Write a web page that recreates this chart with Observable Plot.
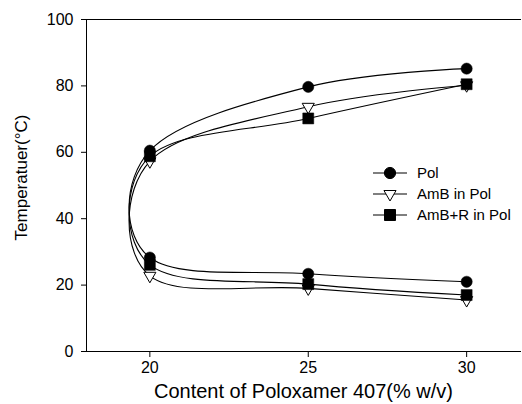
<!DOCTYPE html>
<html>
<head>
<meta charset="utf-8">
<script src="https://cdn.jsdelivr.net/npm/d3@7"></script>
<script src="https://cdn.jsdelivr.net/npm/@observablehq/plot@0.6"></script>
<style>
  html, body { margin: 0; padding: 0; background: #fff; }
  #wrap { position: relative; width: 522px; height: 404px; font-family: "Liberation Sans", Arial, sans-serif; }
  #legend { position: absolute; left: 0; top: 0; }
</style>
</head>
<body>
<div id="wrap"></div>
<script>
// ---- data ----
const contents = [20, 25, 30];                 // Poloxamer 407 content (% w/v)
const seriesNames = ["Pol", "AmB in Pol", "AmB+R in Pol"];
const polUpper = [60.5, 79.7, 85.2];
const polLower = [28.3, 23.4, 21.0];
const ambUpper = [57.3, 73.7, 80.2];
const ambLower = [22.8, 19.0, 15.5];
const amrUpper = [58.8, 70.2, 80.5];
const amrLower = [26.1, 20.3, 17.0];
const yTicks = [0, 20, 40, 60, 80, 100];
const xTicks = [20, 25, 30];

// build path-ordered rows: lower branch 30→20, then upper branch 20→30
function pathRows(name, upper, lower) {
  const rows = [];
  for (let i = contents.length - 1; i >= 0; i--) rows.push({series: name, x: contents[i], y: lower[i]});
  for (let i = 0; i < contents.length; i++) rows.push({series: name, x: contents[i], y: upper[i]});
  return rows;
}
const pol = pathRows(seriesNames[0], polUpper, polLower);
const amb = pathRows(seriesNames[1], ambUpper, ambLower);
const amr = pathRows(seriesNames[2], amrUpper, amrLower);

const lineOpts = {x: "x", y: "y", curve: "cardinal", tension: -0.05, stroke: "black", strokeWidth: 1.1};

const chart = Plot.plot({
  width: 522,
  height: 404,
  marginLeft: 86,
  marginRight: 2,
  marginTop: 19,
  marginBottom: 53,
  style: {fontFamily: "'Liberation Sans', Arial, sans-serif", background: "white", color: "black"},
  x: {domain: [18, 31.7]},
  y: {domain: [0, 100]},
  marks: [
    Plot.frame({anchor: "left", stroke: "black", strokeWidth: 1}),
    Plot.frame({anchor: "bottom", stroke: "black", strokeWidth: 1}),
    Plot.frame({anchor: "top", stroke: "black", strokeWidth: 1}),
    Plot.axisY({ticks: yTicks, tickSize: 5, tickPadding: 8, fontSize: 16, label: null}),
    Plot.axisX({ticks: xTicks, tickSize: 6, tickPadding: 4, fontSize: 16, label: null}),
    Plot.line(amb, lineOpts),
    Plot.line(amr, lineOpts),
    Plot.line(pol, lineOpts),
    Plot.dot(amb, {x: "x", y: "y", symbol: "triangle", rotate: 180, r: 4.5, fill: "white", stroke: "black", strokeWidth: 1}),
    Plot.dot(amr, {x: "x", y: "y", symbol: "square", r: 6.2, fill: "black", stroke: "black", strokeWidth: 0.5}),
    Plot.dot(pol, {x: "x", y: "y", symbol: "circle", r: 5.6, fill: "black", stroke: "black", strokeWidth: 0.5}),
    Plot.text(["Content of Poloxamer 407(% w/v)"], {frameAnchor: "bottom", dy: 46, fontSize: 20, fill: "black"}),
    Plot.text(["Temperatuer(°C)"], {frameAnchor: "left", textAnchor: "middle", dx: -65, dy: -8, rotate: -90, fontSize: 17, fill: "black"})
  ]
});
const wrap = document.getElementById("wrap");
wrap.appendChild(chart);

// ---- legend overlay ----
const legendItems = [
  {name: seriesNames[0], sym: d3.symbolCircle, size: Math.PI * 5.6 * 5.6, fill: "black", rot: 0},
  {name: seriesNames[1], sym: d3.symbolTriangle, size: Math.PI * 4.5 * 4.5, fill: "white", rot: 180},
  {name: seriesNames[2], sym: d3.symbolSquare, size: Math.PI * 6.2 * 6.2, fill: "black", rot: 0}
];
const leg = d3.select(wrap).append("svg").attr("id", "legend").attr("width", 522).attr("height", 404);
legendItems.forEach((d, i) => {
  const g = leg.append("g").attr("transform", `translate(373,${173 + i * 21})`);
  g.append("line").attr("x1", 0).attr("x2", 34).attr("y1", 0).attr("y2", 0).attr("stroke", "black").attr("stroke-width", 1.1);
  g.append("path").attr("d", d3.symbol(d.sym, d.size)()).attr("transform", `translate(17,0) rotate(${d.rot})`)
    .attr("fill", d.fill).attr("stroke", "black").attr("stroke-width", 1);
  g.append("text").attr("x", 44).attr("y", 0).attr("dy", "0.35em").attr("font-size", 15)
    .attr("font-family", "'Liberation Sans', Arial, sans-serif").text(d.name);
});
</script>
</body>
</html>
